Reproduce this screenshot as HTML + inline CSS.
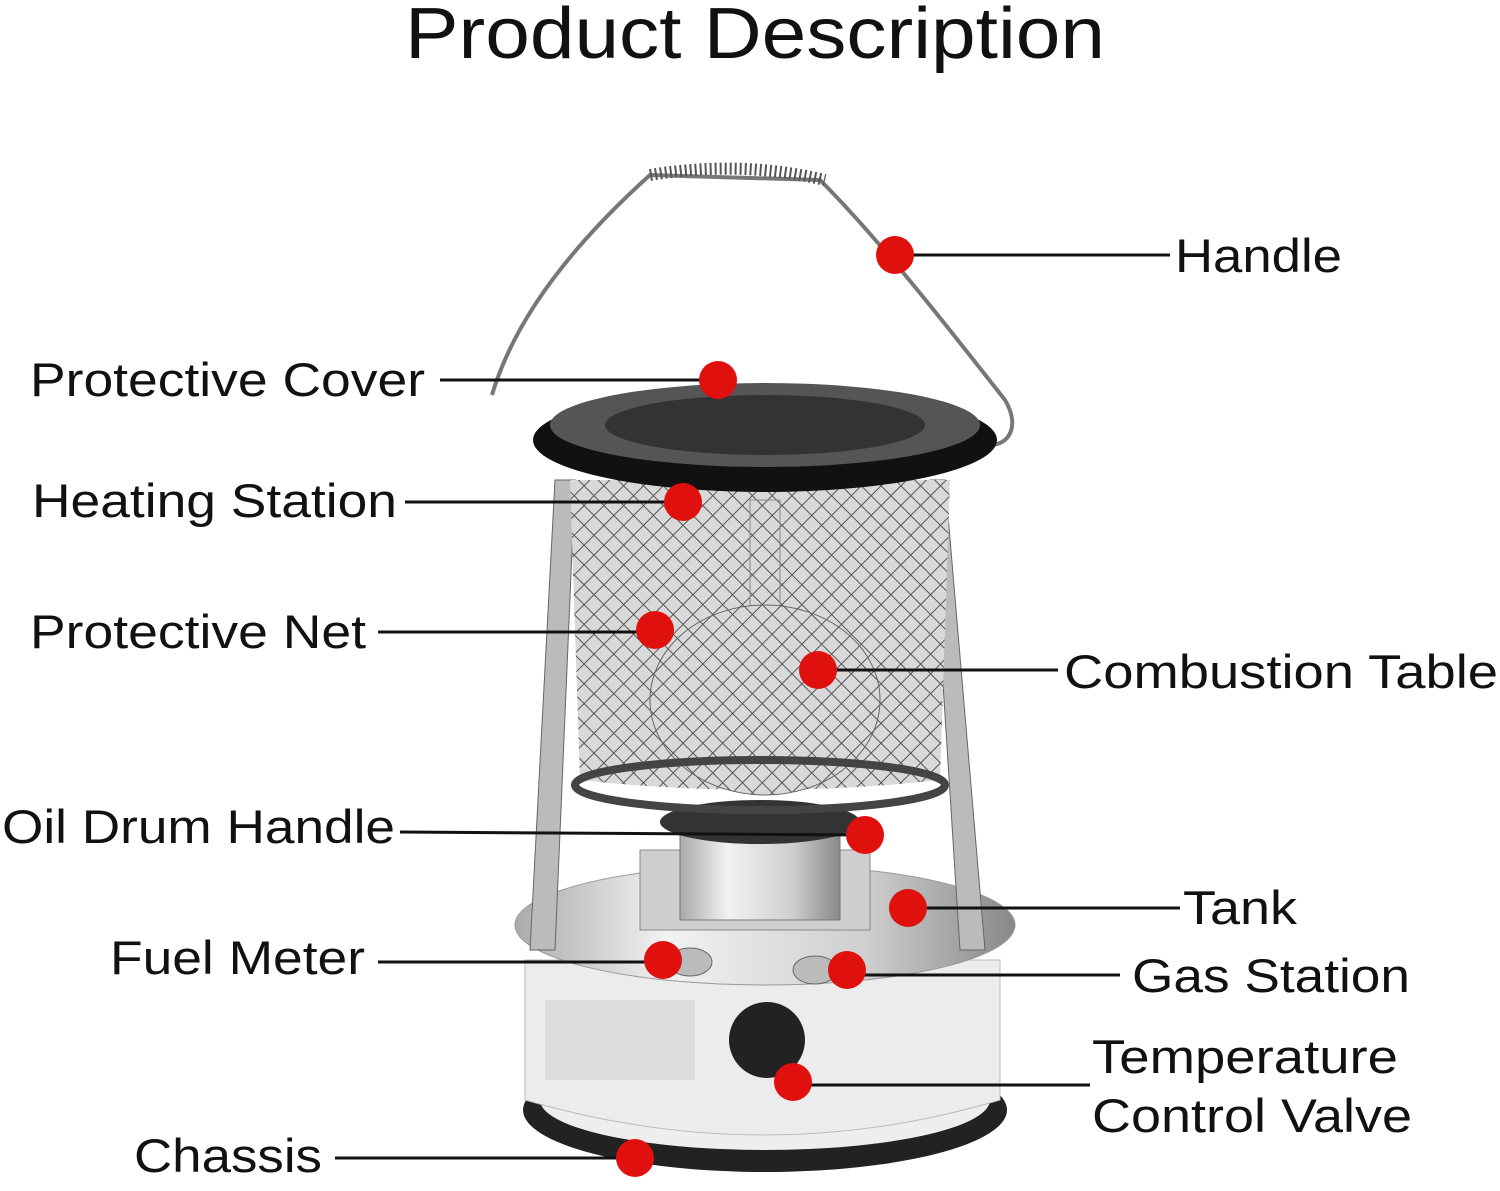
<!DOCTYPE html>
<html><head><meta charset="utf-8"><style>html,body{margin:0;padding:0;background:#fff}svg{display:block}</style></head>
<body>
<svg width="1500" height="1191" viewBox="0 0 1500 1191" xmlns="http://www.w3.org/2000/svg" font-family="Liberation Sans, sans-serif">
<defs>
<pattern id="mesh" width="14" height="14" patternUnits="userSpaceOnUse" patternTransform="rotate(45)">
<rect width="14" height="14" fill="#d9d9d9"/>
<path d="M0 0H14M0 0V14" stroke="#555" stroke-width="2"/>
</pattern>
<linearGradient id="chrome" x1="0" x2="1">
<stop offset="0" stop-color="#aaa"/><stop offset="0.3" stop-color="#f2f2f2"/><stop offset="0.7" stop-color="#cfcfcf"/><stop offset="1" stop-color="#888"/>
</linearGradient>
</defs>
<text x="405" y="58" font-size="72" textLength="700" lengthAdjust="spacingAndGlyphs" fill="#111">Product Description</text>

<!-- handle wire -->
<path d="M492 395 C520 300 600 220 650 175 L820 180 C880 240 950 330 1005 400 C1020 425 1010 445 990 445" fill="none" stroke="#777" stroke-width="4"/>
<path d="M650 175 Q740 160 825 180" fill="none" stroke="#555" stroke-width="12" stroke-dasharray="2 3"/>

<!-- base -->
<ellipse cx="765" cy="1110" rx="242" ry="62" fill="#222"/>
<ellipse cx="765" cy="1100" rx="225" ry="50" fill="#eee"/>
<path d="M525 960 L525 1100 Q765 1170 1000 1100 L1000 960 Z" fill="#ececec" stroke="#bbb"/>
<rect x="545" y="1000" width="150" height="80" fill="#ddd"/>
<circle cx="767" cy="1040" r="38" fill="#222"/>
<ellipse cx="765" cy="925" rx="250" ry="60" fill="url(#chrome)" stroke="#999"/>
<rect x="640" y="850" width="230" height="80" fill="#cfcfcf" stroke="#888"/>
<rect x="680" y="820" width="160" height="100" fill="url(#chrome)" stroke="#777"/>
<ellipse cx="760" cy="822" rx="100" ry="22" fill="#333"/>
<ellipse cx="690" cy="962" rx="22" ry="14" fill="#bbb" stroke="#666"/>
<ellipse cx="815" cy="970" rx="22" ry="14" fill="#bbb" stroke="#666"/>
<path d="M555 480 L530 950 L555 950 L575 480 Z" fill="#bbb" stroke="#666"/>
<path d="M945 480 L985 950 L960 950 L930 480 Z" fill="#bbb" stroke="#666"/>
<path d="M570 480 L950 480 L940 780 Q760 800 580 780 Z" fill="url(#mesh)"/>
<rect x="750" y="500" width="30" height="140" fill="url(#mesh)" stroke="#888"/>
<ellipse cx="765" cy="700" rx="115" ry="95" fill="url(#mesh)" stroke="#666"/>
<ellipse cx="760" cy="785" rx="185" ry="25" fill="none" stroke="#444" stroke-width="8"/>
<ellipse cx="765" cy="440" rx="232" ry="52" fill="#111"/>
<ellipse cx="765" cy="425" rx="215" ry="42" fill="#555"/>
<ellipse cx="765" cy="425" rx="160" ry="30" fill="#333"/>

<g stroke="#111" stroke-width="3">
<line x1="895" y1="255" x2="1170" y2="255"/>
<line x1="440" y1="380" x2="718" y2="380"/>
<line x1="405" y1="502" x2="683" y2="502"/>
<line x1="378" y1="632" x2="655" y2="632"/>
<line x1="818" y1="670" x2="1058" y2="670"/>
<line x1="400" y1="832" x2="865" y2="835"/>
<line x1="908" y1="908" x2="1180" y2="908"/>
<line x1="378" y1="962" x2="663" y2="962"/>
<line x1="847" y1="975" x2="1120" y2="975"/>
<line x1="793" y1="1085" x2="1090" y2="1085"/>
<line x1="335" y1="1158" x2="635" y2="1158"/>
</g>
<g fill="#e0100f">
<circle cx="895" cy="255" r="19"/><circle cx="718" cy="380" r="19"/><circle cx="683" cy="502" r="19"/>
<circle cx="655" cy="630" r="19"/><circle cx="818" cy="670" r="19"/><circle cx="865" cy="835" r="19"/>
<circle cx="908" cy="908" r="19"/><circle cx="663" cy="960" r="19"/><circle cx="847" cy="970" r="19"/>
<circle cx="793" cy="1082" r="19"/><circle cx="635" cy="1158" r="19"/>
</g>

<g font-size="47" fill="#111" lengthAdjust="spacingAndGlyphs">
<text x="1175" y="272" textLength="167" lengthAdjust="spacingAndGlyphs">Handle</text>
<text x="30" y="396" textLength="395" lengthAdjust="spacingAndGlyphs">Protective Cover</text>
<text x="32" y="517" textLength="365" lengthAdjust="spacingAndGlyphs">Heating Station</text>
<text x="30" y="648" textLength="336" lengthAdjust="spacingAndGlyphs">Protective Net</text>
<text x="1064" y="688" textLength="434" lengthAdjust="spacingAndGlyphs">Combustion Table</text>
<text x="2" y="843" textLength="393" lengthAdjust="spacingAndGlyphs">Oil Drum Handle</text>
<text x="1183" y="924" textLength="114" lengthAdjust="spacingAndGlyphs">Tank</text>
<text x="110" y="974" textLength="255" lengthAdjust="spacingAndGlyphs">Fuel Meter</text>
<text x="1132" y="992" textLength="278" lengthAdjust="spacingAndGlyphs">Gas Station</text>
<text x="1092" y="1073" textLength="306" lengthAdjust="spacingAndGlyphs">Temperature</text>
<text x="1092" y="1132" textLength="320" lengthAdjust="spacingAndGlyphs">Control Valve</text>
<text x="134" y="1172" textLength="188" lengthAdjust="spacingAndGlyphs">Chassis</text>
</g>
</svg>
</body></html>
